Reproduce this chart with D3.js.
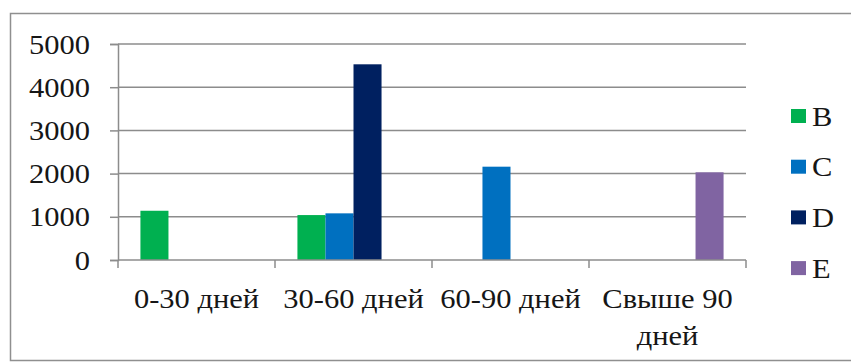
<!DOCTYPE html>
<html>
<head>
<meta charset="utf-8">
<script src="https://cdn.jsdelivr.net/npm/d3@7"></script>
<style>
  html, body { margin: 0; padding: 0; background: #ffffff; }
  svg { display: block; }
</style>
</head>
<body>
<svg id="chart" width="851" height="362"></svg>
<script>
const categories = ["0-30 дней", "30-60 дней", "60-90 дней", "Свыше 90 дней"];
const seriesNames = ["B", "C", "D", "E"];
const valuesB = [1140, 1040, null, null];
const valuesC = [null, 1080, 2160, null];
const valuesD = [null, 4530, null, null];
const valuesE = [null, null, null, 2030];
const yTicks = [0, 1000, 2000, 3000, 4000, 5000];
const colors = ["#00b050", "#0070c0", "#002060", "#8064a2"];

const FONT = "'Liberation Serif', 'Times New Roman', 'DejaVu Serif', serif";
const allValues = [valuesB, valuesC, valuesD, valuesE];
const svg = d3.select("#chart");
const fontSize = 28;
const sx = 1.09;

function styleText(sel) {
  return sel.style("font-family", FONT).style("font-size", fontSize + "px").style("fill", "#161616");
}

// outer frame
svg.append("rect").attr("x", 10.5).attr("y", 13.5).attr("width", 860).attr("height", 347)
  .attr("fill", "#ffffff").attr("stroke", "#8f8f8f").attr("stroke-width", 1.5);

const plotL = 118, plotR = 746, plotT = 44, plotB = 260;
const x = d3.scaleBand().domain(categories).range([plotL, plotR]).paddingInner(0).paddingOuter(0);
const x1 = d3.scaleBand().domain(seriesNames).range([0, x.bandwidth()]).paddingInner(0).paddingOuter(0.8);
const y = d3.scaleLinear().domain([0, 5000]).range([plotB, plotT]);

// gridlines
svg.append("g").selectAll("line").data(yTicks.filter(d => d > 0)).join("line")
  .attr("x1", plotL).attr("x2", plotR)
  .attr("y1", d => y(d)).attr("y2", d => y(d))
  .attr("stroke", "#8c8c8c").attr("stroke-width", 1.5);

// y axis
const yAxis = svg.append("g").attr("transform", `translate(${plotL},0)`)
  .call(d3.axisLeft(y).tickValues(yTicks).tickSize(8).tickPadding(0).tickFormat(d3.format("d")));
yAxis.attr("font-family", null);
yAxis.select(".domain").attr("stroke", "#8c8c8c").attr("stroke-width", 1.5);
yAxis.selectAll(".tick line").attr("stroke", "#8c8c8c").attr("stroke-width", 1.5);
yAxis.selectAll(".tick text").remove();
styleText(yAxis.selectAll(".tick").append("text")
  .attr("text-anchor", "end")
  .attr("transform", `translate(-28,9) scale(${sx},1)`))
  .text(d => d);

// bars
const bars = [];
allValues.forEach((vals, si) => {
  vals.forEach((v, ci) => {
    if (v !== null) bars.push({ s: seriesNames[si], c: categories[ci], v: v, color: colors[si] });
  });
});
svg.append("g").selectAll("rect").data(bars).join("rect")
  .attr("x", d => x(d.c) + x1(d.s))
  .attr("width", x1.bandwidth())
  .attr("y", d => y(d.v))
  .attr("height", d => y(0) - y(d.v))
  .attr("fill", d => d.color);

// x axis
const xAxisG = svg.append("g").attr("transform", `translate(0,${plotB})`);
xAxisG.append("line").attr("x1", plotL).attr("x2", plotR).attr("y1", 0).attr("y2", 0)
  .attr("stroke", "#8c8c8c").attr("stroke-width", 1.5);
const boundaries = categories.map(c => x(c)).concat([plotR]);
xAxisG.selectAll("line.tk").data(boundaries).join("line").attr("class", "tk")
  .attr("x1", d => d).attr("x2", d => d).attr("y1", 0).attr("y2", 8)
  .attr("stroke", "#8c8c8c").attr("stroke-width", 1.5);

const labelLines = c => c === "Свыше 90 дней" ? ["Свыше 90", "дней"] : [c];
const lg = svg.append("g").selectAll("g").data(categories).join("g")
  .attr("transform", c => `translate(${x(c) + x.bandwidth() / 2},308) scale(${sx},1)`);
styleText(lg.selectAll("text").data(c => labelLines(c)).join("text")
  .attr("text-anchor", "middle")
  .attr("y", (d, i) => i * 37))
  .text(d => d);

// legend
const legend = svg.append("g").selectAll("g").data(seriesNames).join("g")
  .attr("transform", (d, i) => `translate(791,${116 + i * 50.7})`);
legend.append("rect").attr("x", 0).attr("y", -7).attr("width", 15).attr("height", 14)
  .attr("fill", (d, i) => colors[i]);
styleText(legend.append("text").attr("transform", `translate(21,9.5) scale(${sx},1)`))
  .text(d => d);
</script>
</body>
</html>
